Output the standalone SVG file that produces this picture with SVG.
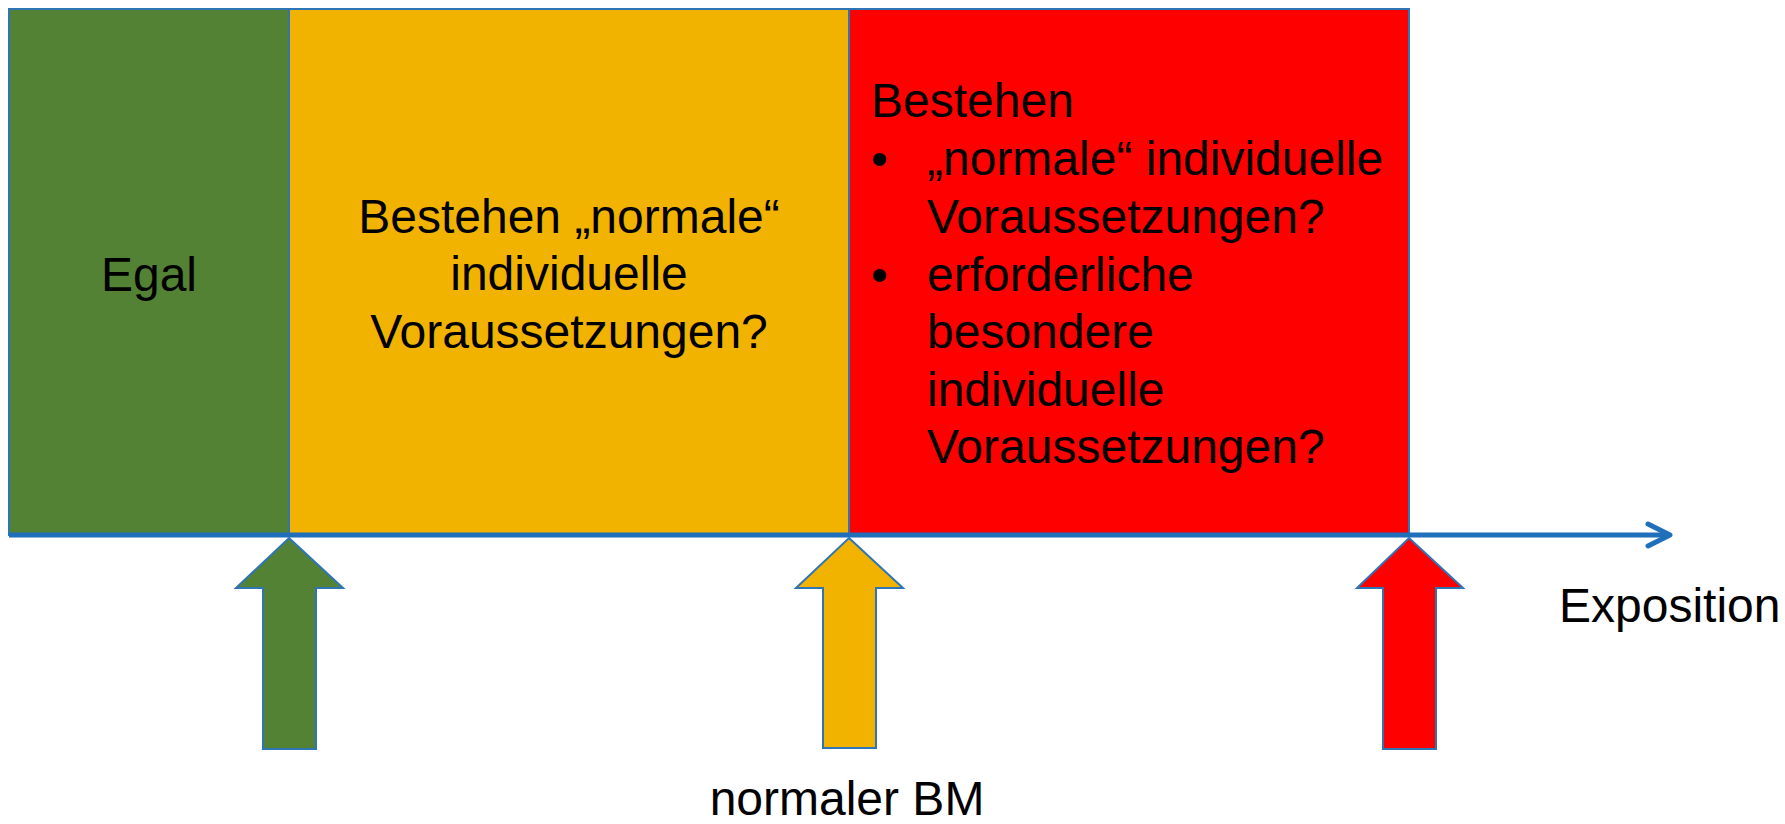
<svg xmlns="http://www.w3.org/2000/svg" width="1785" height="824" viewBox="0 0 1785 824">
<defs>
<style>
.box{stroke:#2E75B6;stroke-width:2}
.arr{stroke:#2E75B6;stroke-width:2;stroke-linejoin:miter}
text{font-family:"Liberation Sans",Arial,sans-serif;font-size:48px;fill:#000}
</style>
</defs>
<rect width="1785" height="824" fill="#fff"/>
<g id="green-zone"><rect class="box" x="9" y="9" width="280" height="526" fill="#548235"/><text x="149" y="291" text-anchor="middle">Egal</text></g>
<g id="yellow-zone"><rect class="box" x="289" y="9" width="560" height="526" fill="#F1B300"/>
<text text-anchor="middle"><tspan x="569" y="233">Bestehen „normale“</tspan><tspan x="569" y="290">individuelle</tspan><tspan x="569" y="348">Voraussetzungen?</tspan></text></g>
<g id="red-zone"><rect class="box" x="849" y="9" width="560" height="526" fill="#FF0000"/>
<text><tspan x="871" y="117">Bestehen</tspan><tspan x="871" y="175">•</tspan><tspan x="927" y="175">„normale“ individuelle</tspan><tspan x="927" y="233">Voraussetzungen?</tspan><tspan x="871" y="291">•</tspan><tspan x="927" y="291">erforderliche</tspan><tspan x="927" y="348">besondere</tspan><tspan x="927" y="406">individuelle</tspan><tspan x="927" y="463">Voraussetzungen?</tspan></text></g>
<g id="connectors">
<line x1="9" y1="535" x2="1669" y2="535" stroke="#1F6FBA" stroke-width="5"/>
<polyline points="1648,524 1670,535 1648,546" fill="none" stroke="#1F6FBA" stroke-width="5" stroke-linecap="round" stroke-linejoin="round"/>
</g>
<g id="arrow-green"><polygon class="arr" fill="#548235" points="289,538 343,588 316,588 316,749 263,749 263,588 236,588"/></g>
<g id="arrow-yellow"><polygon class="arr" fill="#F1B300" points="849,538 903,588 876,588 876,748 823,748 823,588 796,588"/></g>
<g id="arrow-red"><polygon class="arr" fill="#FF0000" points="1409,538 1463,588 1436,588 1436,749 1383,749 1383,588 1357,588"/></g>
<g id="label-exposition"><text x="1559" y="622">Exposition</text></g>
<g id="label-bm"><text x="847" y="815" text-anchor="middle">normaler BM</text></g>
</svg>
